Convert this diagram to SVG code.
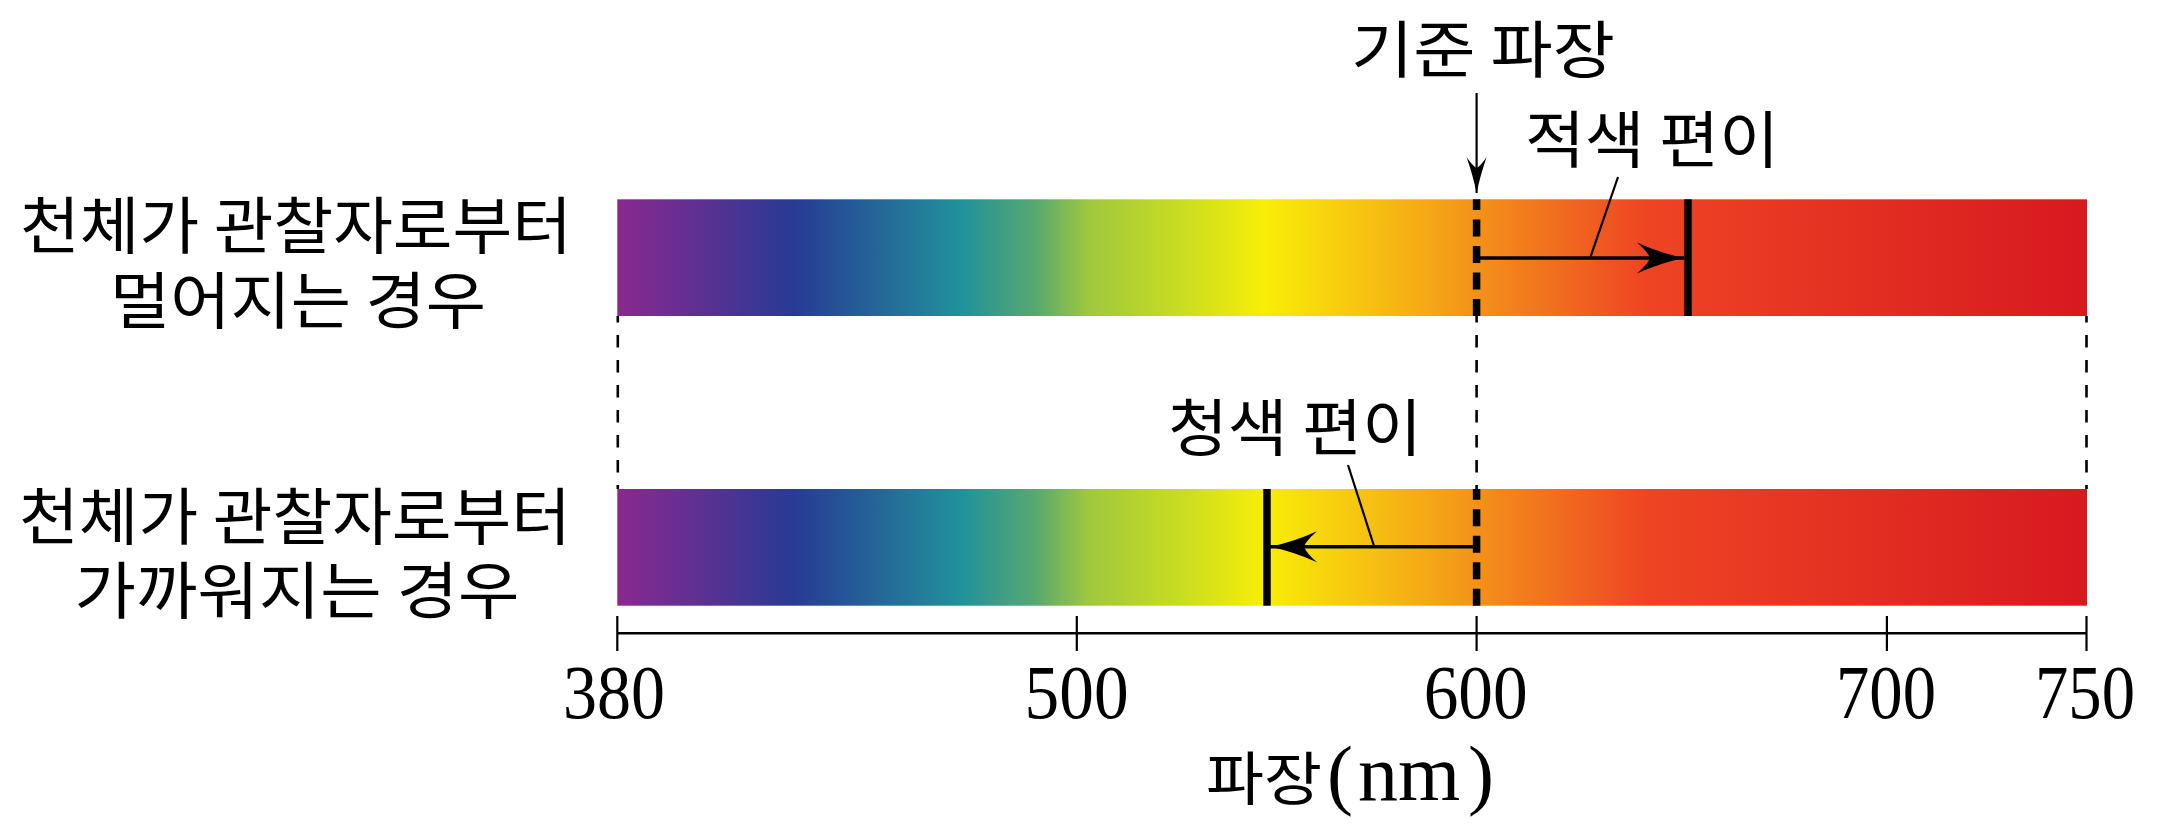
<svg xmlns="http://www.w3.org/2000/svg" width="2160" height="825" viewBox="0 0 2160 825">
<style>
.kr{font-family:"Noto Sans CJK KR","Noto Sans",sans-serif;font-size:62px;fill:#000}
.num{font-family:"Liberation Serif","Times New Roman",serif;font-size:76px;fill:#000;text-anchor:middle}
.thin{stroke:#000;stroke-width:2.2;fill:none}
.dash{stroke:#000;stroke-width:2.6;fill:none;stroke-dasharray:12.5 12.5}
.thickdash{stroke:#000;stroke-width:7.5;fill:none;stroke-dasharray:17 9.5}
.thick{stroke:#000;stroke-width:7.5;fill:none}
.shift{stroke:#000;stroke-width:3.4;fill:none}
</style>
<defs>
<linearGradient id="spec" gradientUnits="userSpaceOnUse" x1="617.3" y1="0" x2="2087" y2="0">
<stop offset="0" stop-color="#8B288F"/>
<stop offset="0.120" stop-color="#283A95"/>
<stop offset="0.235" stop-color="#21929B"/>
<stop offset="0.284" stop-color="#56A870"/>
<stop offset="0.321" stop-color="#9FC83E"/>
<stop offset="0.383" stop-color="#C8DC22"/>
<stop offset="0.440" stop-color="#F8EE07"/>
<stop offset="0.526" stop-color="#F6B813"/>
<stop offset="0.587" stop-color="#F39019"/>
<stop offset="0.701" stop-color="#EE4423"/>
<stop offset="1" stop-color="#D71920"/>
</linearGradient>
<marker id="bigHead" markerUnits="userSpaceOnUse" viewBox="-50 -17 52 34" refX="0" refY="0" markerWidth="52" markerHeight="34" orient="auto" overflow="visible">
<path d="M0,0 Q-24,-5 -47,-15.5 Q-36,-6 -34,0 Q-36,6 -47,15.5 Q-24,5 0,0 Z" fill="#000"/>
</marker>
<marker id="smallHead" markerUnits="userSpaceOnUse" viewBox="-38 -11 40 22" refX="0" refY="0" markerWidth="40" markerHeight="22" orient="auto" overflow="visible">
<path d="M0,0 Q-17,-3.5 -36,-10 Q-27,-4 -25,0 Q-27,4 -36,10 Q-17,3.5 0,0 Z" fill="#000"/>
</marker>
</defs>
<rect width="2160" height="825" fill="#fff"/>

<g id="label-receding">
<text class="kr" text-anchor="middle"><tspan x="296" y="249" textLength="552" lengthAdjust="spacingAndGlyphs">천체가 관찰자로부터</tspan><tspan x="298" y="324" textLength="376" lengthAdjust="spacingAndGlyphs">멀어지는 경우</tspan></text>
</g>
<g id="label-approaching">
<text class="kr" text-anchor="middle"><tspan x="295" y="540" textLength="552" lengthAdjust="spacingAndGlyphs">천체가 관찰자로부터</tspan><tspan x="297" y="614" textLength="445" lengthAdjust="spacingAndGlyphs">가까워지는 경우</tspan></text>
</g>

<g id="bar-top">
<rect x="617.3" y="199.3" width="1469.7" height="116.7" fill="url(#spec)"/>
</g>
<g id="bar-bottom">
<rect x="617.3" y="489" width="1469.7" height="116.7" fill="url(#spec)"/>
</g>

<g id="label-ref">
<text class="kr" x="1483" y="73" text-anchor="middle" textLength="264" lengthAdjust="spacingAndGlyphs">기준 파장</text>
</g>
<g id="label-red">
<text class="kr" x="1652" y="163" text-anchor="middle" textLength="254" lengthAdjust="spacingAndGlyphs">적색 편이</text>
</g>
<g id="label-blue">
<text class="kr" x="1295" y="451" text-anchor="middle" textLength="254" lengthAdjust="spacingAndGlyphs">청색 편이</text>
</g>

<g id="connectors">
<line class="thin" x1="1476.6" y1="93" x2="1476.6" y2="193" marker-end="url(#smallHead)"/>
<line class="thickdash" x1="1476.6" y1="316" x2="1476.6" y2="199.3"/>
<line class="thick" x1="1688" y1="199.3" x2="1688" y2="316"/>
<line class="shift" x1="1476.6" y1="258" x2="1684" y2="258" marker-end="url(#bigHead)"/>
<line class="thin" x1="1618" y1="177" x2="1590.5" y2="257"/>
<line class="dash" x1="617.8" y1="316" x2="617.8" y2="489" stroke-dashoffset="6"/>
<line class="dash" x1="1476.6" y1="316" x2="1476.6" y2="489" stroke-dashoffset="6"/>
<line class="dash" x1="2086.5" y1="316" x2="2086.5" y2="489" stroke-dashoffset="6"/>
<line class="thickdash" x1="1476.6" y1="605.7" x2="1476.6" y2="489"/>
<line class="thick" x1="1267" y1="489" x2="1267" y2="605.7"/>
<line class="shift" x1="1476.6" y1="546.7" x2="1270" y2="546.7" marker-end="url(#bigHead)"/>
<line class="thin" x1="1348" y1="465" x2="1374" y2="546"/>
</g>

<g id="axis">
<line x1="617.3" y1="633.3" x2="2087" y2="633.3" stroke="#000" stroke-width="2.6"/>
<line class="thin" x1="617.3" y1="616" x2="617.3" y2="651"/>
<line class="thin" x1="1076.8" y1="616" x2="1076.8" y2="651"/>
<line class="thin" x1="1476.6" y1="616" x2="1476.6" y2="651"/>
<line class="thin" x1="1886.9" y1="616" x2="1886.9" y2="651"/>
<line class="thin" x1="2086.5" y1="616" x2="2086.5" y2="651"/>
<text class="num" x="614" y="718" textLength="102" lengthAdjust="spacingAndGlyphs">380</text>
<text class="num" x="1076.6" y="718" textLength="104" lengthAdjust="spacingAndGlyphs">500</text>
<text class="num" x="1475.7" y="718" textLength="104" lengthAdjust="spacingAndGlyphs">600</text>
<text class="num" x="1886" y="718" textLength="100" lengthAdjust="spacingAndGlyphs">700</text>
<text class="num" x="2085" y="718" textLength="100" lengthAdjust="spacingAndGlyphs">750</text>
<text y="800"><tspan x="1206" font-family="Noto Sans CJK KR, sans-serif" font-size="58" textLength="116" lengthAdjust="spacingAndGlyphs">파장</tspan><tspan x="1327" font-family="Liberation Serif, serif" font-size="78">(</tspan><tspan x="1358" font-family="Liberation Serif, serif" font-size="80">nm</tspan><tspan x="1468" font-family="Liberation Serif, serif" font-size="78">)</tspan></text>
</g>
</svg>
